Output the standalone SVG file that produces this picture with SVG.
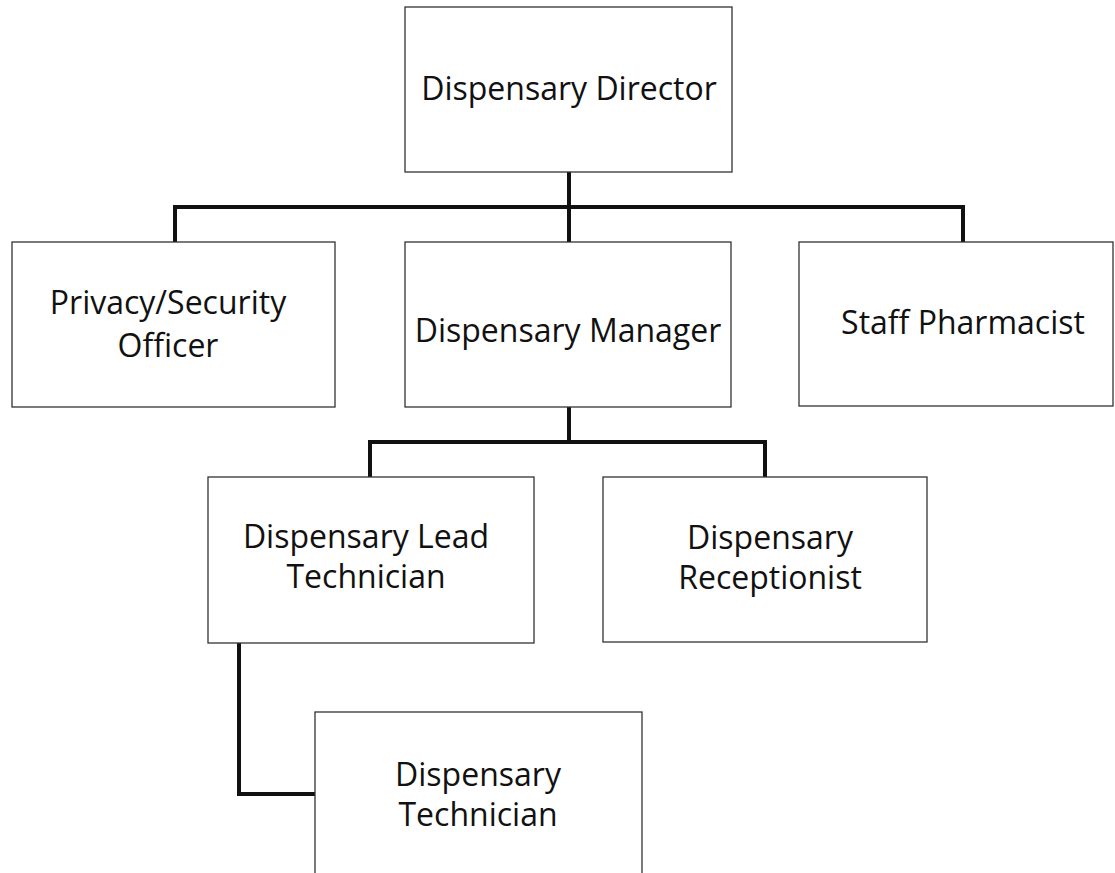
<svg xmlns="http://www.w3.org/2000/svg" width="1115" height="873" viewBox="0 0 1115 873">
<style>
.box{fill:#fff;stroke:#333;stroke-width:1.3}
.lbl{font-family:"Open Sans","Liberation Sans",sans-serif;font-size:32px;fill:#111;text-anchor:middle}
.con{fill:none;stroke:#111;stroke-width:4;stroke-linejoin:miter;stroke-linecap:square}
</style>
<rect width="1115" height="873" fill="#fff"/>
<g id="connectors">
<polyline class="con" points="569,172 569,207"/>
<polyline class="con" points="175,242 175,207 963,207 963,242"/>
<polyline class="con" points="569,207 569,242"/>
<polyline class="con" points="569,407 569,442"/>
<polyline class="con" points="370,477 370,442 765,442 765,477"/>
<polyline class="con" points="239,643 239,794 315,794"/>
</g>
<g id="director">
<rect class="box" x="405" y="7" width="327" height="165"/>
<text class="lbl" x="569" y="100">Dispensary Director</text>
</g>
<g id="privacy">
<rect class="box" x="12" y="242" width="323" height="165"/>
<text class="lbl" x="168" y="314">Privacy/Security</text>
<text class="lbl" x="168" y="357">Officer</text>
</g>
<g id="manager">
<rect class="box" x="405" y="242" width="326" height="165"/>
<text class="lbl" x="568" y="342">Dispensary Manager</text>
</g>
<g id="pharmacist">
<rect class="box" x="799" y="242" width="314" height="164"/>
<text class="lbl" x="963" y="334">Staff Pharmacist</text>
</g>
<g id="lead">
<rect class="box" x="208" y="477" width="326" height="166"/>
<text class="lbl" x="366" y="548">Dispensary Lead</text>
<text class="lbl" x="366" y="588">Technician</text>
</g>
<g id="receptionist">
<rect class="box" x="603" y="477" width="324" height="165"/>
<text class="lbl" x="770" y="549">Dispensary</text>
<text class="lbl" x="770" y="589">Receptionist</text>
</g>
<g id="technician">
<rect class="box" x="315" y="712" width="327" height="170"/>
<text class="lbl" x="478" y="786">Dispensary</text>
<text class="lbl" x="478" y="826">Technician</text>
</g>
</svg>
